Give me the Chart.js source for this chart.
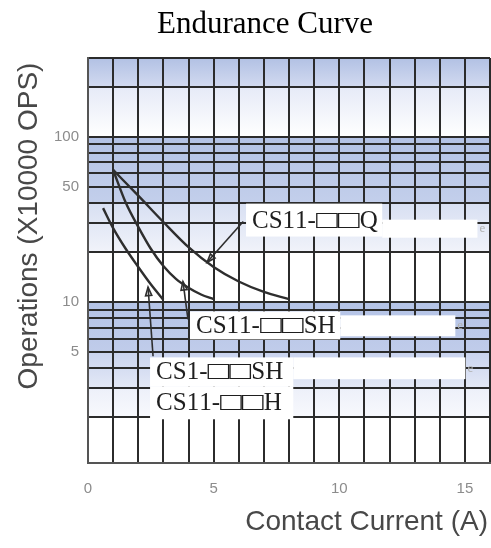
<!DOCTYPE html>
<html>
<head>
<meta charset="utf-8">
<script src="https://cdn.jsdelivr.net/npm/chart.js@4/dist/chart.umd.min.js"></script>
<style>
  html, body { margin: 0; padding: 0; background: #fff; }
  #wrap { position: relative; width: 491px; height: 548px; }
</style>
</head>
<body>
<div id="wrap"><canvas id="endurance-chart"></canvas></div>
<script>
// --- DATA ---
const Q_CURRENT = [1, 2, 3, 4, 5, 6, 7, 8];
const Q_OPS = [63, 44, 30.5, 21.5, 16.3, 13.3, 11.5, 10.4];
const SH_CURRENT = [1, 1.5, 2, 2.5, 3, 3.5, 4, 4.5, 5];
const SH_OPS = [63, 40, 28.5, 21, 16.5, 13.8, 12.2, 11.1, 10.4];
const H_CURRENT = [0.6, 1, 1.5, 2, 2.5, 3];
const H_OPS = [37, 28, 21, 16.3, 12.8, 10.3];

const X_GRID = [0, 1, 2, 3, 4, 5, 6, 7, 8, 9, 10, 11, 12, 13, 14, 15, 16];
const X_LABELS = [0, 5, 10, 15];
const Y_GRID = [2, 3, 4, 5, 6, 7, 8, 9, 10, 20, 30, 40, 50, 60, 70, 80, 90, 100, 200, 300];
const Y_LABELS = [5, 10, 50, 100];

// annotation labels, boxes [x1, y1, x2, y2] and leader lines [fromX, fromY, toX, toY] in data units
const NOTE_TEXT = ['CS11-□□Q', 'CS11-□□SH', 'CS1-□□SH', 'CS11-□□H'];
const NOTE_BOX = [[6.29, 39.4, 11.71, 24.9], [4.06, 8.77, 10.04, 5.94], [2.47, 4.62, 8.17, 3.09], [2.47, 3.09, 8.17, 1.95]];
const BLANK_BOX = [[11.71, 31.5, 15.5, 24.5], [10.04, 8.3, 14.62, 6.2], [8.17, 4.62, 15.02, 3.41]];
const LEADERS = [[6.18, 30.7, 4.74, 17.4], [3.98, 7.85, 3.78, 13.3], [2.59, 4.69, 2.39, 12.3]];

// --- STYLE ---
const LINE_COLOR = '#2e2e2e';
const GRID_COLOR = '#2b2b2b';
const LABEL_FONT = '25px "Liberation Serif"';
const SQUARE_STRETCH = 1.45;
// background bands: [fromValue, toValue, topColor, bottomColor]
const BANDS = [
    [300, 200, '#b2c1e4', '#d2daf0'],
    [200, 100, '#e6eaf7', '#ffffff'],
    [100, 40, '#b3c2e5', '#c3cfeb'],
    [40, 20, '#d7dff2', '#f1f3fa'],
    [20, 10, '#ffffff', '#ffffff'],
    [10, 5, '#b4c3e6', '#c0ccea'],
    [5, 3, '#c9d3ee', '#e4e9f6'],
    [3, 2, '#edf0f9', '#f8f9fd'],
    [2, 1, '#ffffff', '#ffffff']
];

const bandPlugin = {
    id: 'bands',
    beforeDraw(chart) {
        const { ctx, chartArea, scales } = chart;
        ctx.save();
        BANDS.forEach(([from, to, c1, c2]) => {
            const y1 = scales.y.getPixelForValue(from);
            const y2 = Math.min(scales.y.getPixelForValue(to), chartArea.bottom);
            const g = ctx.createLinearGradient(0, y1, 0, y2);
            g.addColorStop(0, c1);
            g.addColorStop(1, c2);
            ctx.fillStyle = g;
            ctx.fillRect(chartArea.left, y1, chartArea.right - chartArea.left, y2 - y1);
        });
        ctx.restore();
    }
};

function toPx(chart, x, y) {
    return [chart.scales.x.getPixelForValue(x), chart.scales.y.getPixelForValue(y)];
}

// the white squares are wider than tall in the original, so stretch them a bit
function drawLabel(ctx, text, x, y) {
    ctx.font = LABEL_FONT;
    let cx = x;
    for (const ch of text) {
        const w = ctx.measureText(ch).width;
        if (ch === '□') {
            ctx.save();
            ctx.translate(cx, y);
            ctx.scale(SQUARE_STRETCH, 1);
            ctx.fillText(ch, 0, 0);
            ctx.restore();
            cx += w * SQUARE_STRETCH;
        } else {
            ctx.fillText(ch, cx, y);
            cx += w;
        }
    }
}

const notePlugin = {
    id: 'notes',
    afterDatasetsDraw(chart) {
        const { ctx } = chart;
        ctx.save();
        // leader lines with arrow heads
        ctx.strokeStyle = LINE_COLOR;
        ctx.fillStyle = LINE_COLOR;
        ctx.lineWidth = 1.6;
        LEADERS.forEach(([fx, fy, tx, ty]) => {
            const [x1, y1] = toPx(chart, fx, fy);
            const [x2, y2] = toPx(chart, tx, ty);
            ctx.beginPath();
            ctx.moveTo(x1, y1);
            ctx.lineTo(x2, y2);
            ctx.stroke();
            const a = Math.atan2(y2 - y1, x2 - x1);
            ctx.beginPath();
            ctx.moveTo(x2, y2);
            ctx.lineTo(x2 - 9 * Math.cos(a - 0.35), y2 - 9 * Math.sin(a - 0.35));
            ctx.lineTo(x2 - 9 * Math.cos(a + 0.35), y2 - 9 * Math.sin(a + 0.35));
            ctx.closePath();
            ctx.stroke();
        });
        // blank patches with faint leftover letter
        BLANK_BOX.forEach(([bx1, by1, bx2, by2]) => {
            const [x1, y1] = toPx(chart, bx1, by1);
            const [x2, y2] = toPx(chart, bx2, by2);
            ctx.fillStyle = '#ffffff';
            ctx.fillRect(x1, y1, x2 - x1, y2 - y1);
            ctx.fillStyle = '#b0b0b0';
            ctx.font = '13px "Liberation Serif"';
            ctx.textAlign = 'left';
            ctx.textBaseline = 'middle';
            ctx.fillText('e', x2 + 2, (y1 + y2) / 2);
        });
        // label boxes
        NOTE_TEXT.forEach((text, i) => {
            const [bx1, by1, bx2, by2] = NOTE_BOX[i];
            const [x1, y1] = toPx(chart, bx1, by1);
            const [x2, y2] = toPx(chart, bx2, by2);
            ctx.fillStyle = '#ffffff';
            ctx.fillRect(x1, y1, x2 - x1, y2 - y1);
            ctx.fillStyle = '#1e1e1e';
            ctx.textAlign = 'left';
            ctx.textBaseline = 'middle';
            drawLabel(ctx, text, x1 + 6, (y1 + y2) / 2 + 1);
        });
        ctx.restore();
    },
    afterDraw(chart) {
        const { ctx } = chart;
        ctx.save();
        ctx.fillStyle = '#000';
        ctx.font = '31px "Liberation Serif"';
        ctx.textAlign = 'center';
        ctx.textBaseline = 'middle';
        ctx.fillText('Endurance Curve', 265, 25);

        ctx.fillStyle = '#484848';
        ctx.font = '28px "Liberation Sans"';
        ctx.textAlign = 'right';
        ctx.fillText('Contact Current (A)', 488, 522);

        ctx.translate(29, 226);
        ctx.rotate(-Math.PI / 2);
        ctx.textAlign = 'center';
        ctx.fillText('Operations (X10000 OPS)', 0, 0);
        ctx.restore();
    }
};

function curve(xs, ys) {
    return {
        data: xs.map((x, i) => ({ x: x, y: ys[i] })),
        borderColor: LINE_COLOR,
        borderWidth: 2.4,
        pointRadius: 0,
        fill: false,
        cubicInterpolationMode: 'monotone'
    };
}

const ctx = document.getElementById('endurance-chart').getContext('2d');
new Chart(ctx, {
    type: 'line',
    data: {
        datasets: [curve(Q_CURRENT, Q_OPS), curve(SH_CURRENT, SH_OPS), curve(H_CURRENT, H_OPS)]
    },
    options: {
        responsive: true,
        maintainAspectRatio: false,
        animation: false,
        layout: { padding: { top: 58, right: 1, left: 0, bottom: 0 } },
        plugins: { legend: { display: false }, title: { display: false }, tooltip: { enabled: false } },
        scales: {
            x: {
                type: 'linear',
                min: 0,
                max: 16,
                afterBuildTicks: scale => { scale.ticks = X_GRID.map(v => ({ value: v })); },
                afterFit: scale => {
                    scale.height = 85;
                    scale.paddingLeft = 0;
                    scale.paddingRight = 0;
                },
                ticks: {
                    autoSkip: false,
                    maxRotation: 0,
                    padding: 17,
                    color: '#8c8c8c',
                    font: { family: 'Liberation Sans', size: 15 },
                    callback: v => X_LABELS.includes(v) ? String(v) : ''
                },
                grid: { color: GRID_COLOR, lineWidth: 2, drawTicks: false },
                border: { color: '#555', width: 2 }
            },
            y: {
                type: 'logarithmic',
                min: 1.06,
                max: 300,
                afterBuildTicks: scale => { scale.ticks = Y_GRID.map(v => ({ value: v })); },
                afterFit: scale => {
                    scale.width = 88;
                    scale.paddingTop = 0;
                    scale.paddingBottom = 0;
                },
                ticks: {
                    autoSkip: false,
                    padding: 9,
                    color: '#8c8c8c',
                    font: { family: 'Liberation Sans', size: 15 },
                    callback: v => Y_LABELS.includes(v) ? String(v) : ''
                },
                grid: { color: GRID_COLOR, lineWidth: 2, drawTicks: false },
                border: { color: '#555', width: 2 }
            }
        }
    },
    plugins: [bandPlugin, notePlugin]
});
</script>
</body>
</html>
